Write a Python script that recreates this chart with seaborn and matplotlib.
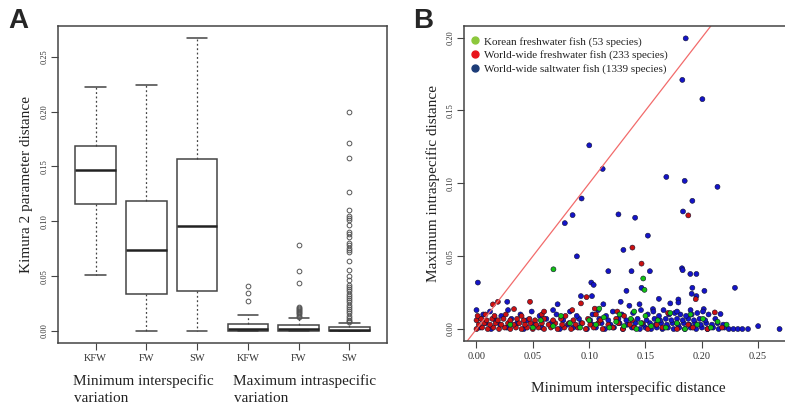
import numpy as np
import pandas as pd
import matplotlib
matplotlib.use('Agg')
import matplotlib.pyplot as plt
from matplotlib.lines import Line2D
import seaborn as sns

# ---- panel A: boxplot summaries ----
box_labels = ['KFW', 'FW', 'SW', 'KFW', 'FW', 'SW']
whisker_lo = [0.051, 0.000, 0.000, 0.000, 0.000, 0.000]
q1 = [0.1159, 0.034, 0.0365, 0.000, 0.000, 0.000]
median = [0.1466, 0.0739, 0.096, 0.0015, 0.0015, 0.001]
q3 = [0.169, 0.1183, 0.157, 0.006, 0.005, 0.004]
whisker_hi = [0.2223, 0.2245, 0.267, 0.0148, 0.0122, 0.0076]
outliers_kfw = [0.041, 0.035, 0.027]
outliers_fw = [0.078, 0.055, 0.044, 0.022, 0.021, 0.020, 0.019, 0.018,
               0.017, 0.016, 0.015, 0.014, 0.013]
outliers_sw = [0.200, 0.171, 0.158, 0.127, 0.110, 0.105, 0.103, 0.101,
               0.097, 0.090, 0.088, 0.086, 0.080, 0.078, 0.076, 0.074,
               0.072, 0.064, 0.056, 0.050, 0.046, 0.042, 0.040, 0.038,
               0.036, 0.034, 0.032, 0.030, 0.028, 0.026, 0.024, 0.022,
               0.020, 0.018, 0.016, 0.014, 0.012, 0.010, 0.009, 0.008]
box_outliers = [[], [], [], outliers_kfw, outliers_fw, outliers_sw]
group_line1 = ['Minimum interspecific', 'Maximum intraspecific']
group_line2 = ['variation', 'variation']

# ---- panel B: min interspecific (x) vs max intraspecific (y) ----
sw_x = [0.1857, 0.1827, 0.2005, 0.1001, 0.112, 0.1685, 0.1848, 0.2139,
        0.0933, 0.1916, 0.0853, 0.0784, 0.126, 0.1408, 0.1833, 0.1521,
        0.1304, 0.0891, 0.117, 0.1376, 0.1539, 0.1824, 0.183, 0.1898,
        0.1952, 0.0012, 0.1019, 0.104, 0.1916, 0.2023, 0.2294, 0.1331,
        0.1465, 0.191, 0.1952, 0.0927, 0.1025, 0.1619, 0.1792, 0.1792,
        0.2017,
        0.0273, 0.072, 0.1126, 0.128, 0.1357, 0.1447, 0.1566, 0.172, 0.2166,
        0.003, 0.013, 0.027, 0.042, 0.058, 0.074, 0.086, 0.098, 0.106, 0.114,
        0.122, 0.130, 0.138, 0.145, 0.150, 0.155, 0.160, 0.165, 0.170, 0.175,
        0.180, 0.185, 0.190, 0.195, 0.200, 0.205, 0.210, 0.215, 0.220, 0.224,
        0.228, 0.232, 0.236, 0.241, 0.269,
        0.008, 0.021, 0.036, 0.051, 0.066, 0.081, 0.093, 0.103, 0.111, 0.119,
        0.127, 0.134, 0.141, 0.148, 0.154, 0.159, 0.164, 0.169, 0.174, 0.179,
        0.184, 0.189, 0.194, 0.199, 0.204, 0.209, 0.214, 0.219, 0.250,
        0.004, 0.017, 0.031, 0.045, 0.062, 0.077, 0.091, 0.101, 0.109, 0.117,
        0.126, 0.133, 0.143, 0.151, 0.158, 0.163, 0.168, 0.173, 0.178, 0.183,
        0.188, 0.193, 0.198, 0.203, 0.212,
        0.006, 0.022, 0.039, 0.056, 0.071, 0.089, 0.103, 0.115, 0.129, 0.139,
        0.152, 0.162, 0.171, 0.176, 0.181, 0.186, 0.191, 0.196, 0.206,
        0.000, 0.012, 0.028, 0.049, 0.068, 0.083, 0.108, 0.121, 0.146, 0.157,
        0.166, 0.178, 0.190, 0.201]
sw_y = [0.1995, 0.171, 0.1578, 0.1261, 0.1099, 0.1044, 0.1017, 0.0976,
        0.0896, 0.088, 0.0782, 0.0727, 0.0787, 0.0764, 0.0807, 0.0641,
        0.0543, 0.0499, 0.0397, 0.0397, 0.0397, 0.0417, 0.0404, 0.0378,
        0.0378, 0.0319, 0.0319, 0.0303, 0.0283, 0.0262, 0.0283, 0.0262,
        0.0283, 0.0242, 0.0226, 0.0226, 0.0226, 0.0207, 0.0203, 0.0182,
        0.0137,
        0.0187, 0.017, 0.017, 0.0187, 0.016, 0.017, 0.0137, 0.0176, 0.0103,
        0.001, 0.000, 0.001, 0.000, 0.001, 0.000, 0.001, 0.000, 0.001, 0.000,
        0.001, 0.000, 0.001, 0.000, 0.001, 0.000, 0.001, 0.000, 0.001, 0.000,
        0.001, 0.000, 0.001, 0.000, 0.001, 0.000, 0.001, 0.000, 0.001, 0.000,
        0.000, 0.000, 0.000, 0.000, 0.000,
        0.004, 0.003, 0.004, 0.003, 0.004, 0.003, 0.004, 0.003, 0.004, 0.003,
        0.004, 0.003, 0.004, 0.003, 0.004, 0.003, 0.004, 0.003, 0.004, 0.003,
        0.004, 0.003, 0.004, 0.003, 0.004, 0.003, 0.004, 0.003, 0.002,
        0.007, 0.006, 0.007, 0.006, 0.007, 0.006, 0.007, 0.006, 0.007, 0.006,
        0.007, 0.006, 0.007, 0.006, 0.007, 0.006, 0.007, 0.006, 0.007, 0.006,
        0.007, 0.006, 0.007, 0.006, 0.007,
        0.010, 0.009, 0.010, 0.009, 0.010, 0.009, 0.010, 0.009, 0.010, 0.011,
        0.010, 0.009, 0.010, 0.011, 0.010, 0.009, 0.010, 0.011, 0.010,
        0.013, 0.012, 0.013, 0.012, 0.013, 0.012, 0.013, 0.012, 0.013, 0.012,
        0.013, 0.012, 0.013, 0.012]
fw_x = [0.000, 0.005, 0.010, 0.015, 0.020, 0.025, 0.030, 0.035, 0.040, 0.045,
        0.050, 0.055, 0.060, 0.066, 0.072, 0.078, 0.084, 0.090, 0.097, 0.104,
        0.112, 0.121, 0.130, 0.140, 0.152, 0.165, 0.178, 0.192, 0.205, 0.218,
        0.002, 0.007, 0.012, 0.017, 0.022, 0.028, 0.033, 0.038, 0.043, 0.048,
        0.053, 0.058, 0.064, 0.070, 0.076, 0.082, 0.088, 0.094, 0.101, 0.108,
        0.117, 0.126, 0.136, 0.147, 0.160, 0.188,
        0.000, 0.004, 0.009, 0.014, 0.019, 0.024, 0.030, 0.036, 0.042, 0.047,
        0.052, 0.060, 0.068, 0.075, 0.086, 0.099, 0.110, 0.124, 0.138,
        0.001, 0.008, 0.016, 0.026, 0.040, 0.058, 0.079, 0.106, 0.131,
        0.019, 0.0146, 0.0333, 0.0475, 0.0927, 0.0977, 0.1946, 0.2115, 0.188,
        0.1384, 0.1465, 0.060, 0.085, 0.125, 0.170, 0.105]
fw_y = [0.000, 0.001, 0.000, 0.001, 0.000, 0.001, 0.000, 0.001, 0.000, 0.001,
        0.000, 0.001, 0.000, 0.001, 0.000, 0.001, 0.000, 0.001, 0.000, 0.001,
        0.000, 0.001, 0.000, 0.001, 0.000, 0.001, 0.000, 0.001, 0.000, 0.001,
        0.003, 0.004, 0.003, 0.004, 0.003, 0.004, 0.003, 0.004, 0.003, 0.004,
        0.003, 0.004, 0.003, 0.004, 0.003, 0.004, 0.003, 0.004, 0.003, 0.004,
        0.003, 0.004, 0.003, 0.004, 0.003, 0.003,
        0.006, 0.007, 0.006, 0.007, 0.006, 0.007, 0.006, 0.007, 0.006, 0.007,
        0.006, 0.007, 0.006, 0.007, 0.006, 0.007, 0.006, 0.007, 0.006,
        0.009, 0.010, 0.009, 0.010, 0.009, 0.010, 0.009, 0.010, 0.009,
        0.0187, 0.0169, 0.0137, 0.0187, 0.0176, 0.0219, 0.0205, 0.0114, 0.078,
        0.0559, 0.0449, 0.012, 0.013, 0.012, 0.011, 0.014]
kfw_x = [0.050, 0.057, 0.068, 0.075, 0.083, 0.092, 0.100, 0.106, 0.109, 0.113,
         0.118, 0.124, 0.127, 0.131, 0.137, 0.142, 0.146, 0.150, 0.155, 0.161,
         0.168, 0.172, 0.178, 0.185, 0.190, 0.196, 0.201, 0.208, 0.214, 0.222,
         0.0683, 0.148, 0.1491, 0.030, 0.140]
kfw_y = [0.001, 0.006, 0.002, 0.009, 0.004, 0.001, 0.006, 0.003, 0.014, 0.008,
         0.001, 0.005, 0.010, 0.002, 0.007, 0.000, 0.004, 0.009, 0.002, 0.006,
         0.001, 0.011, 0.004, 0.000, 0.010, 0.003, 0.007, 0.001, 0.005, 0.003,
         0.041, 0.0347, 0.0269, 0.003, 0.012]
legend_labels = ['Korean freshwater fish (53 species)',
                 'World-wide freshwater fish (233 species)',
                 'World-wide saltwater fish (1339 species)']

sns.set_style('ticks')
plt.rcParams['font.family'] = ['Liberation Serif', 'DejaVu Serif']

fig = plt.figure(figsize=(7.85, 4.05), dpi=100)
edge = '#444444'

# panel A
axa = fig.add_axes([0.0739, 0.1531, 0.4191, 0.7827])
stats = []
for i in range(len(box_labels)):
    stats.append(dict(whislo=whisker_lo[i], q1=q1[i], med=median[i], q3=q3[i],
                      whishi=whisker_hi[i], fliers=box_outliers[i]))
axa.bxp(stats, positions=range(1, 7), widths=0.8, capwidths=0.4,
        patch_artist=True,
        boxprops=dict(facecolor='white', edgecolor=edge, linewidth=1.1),
        medianprops=dict(color='#222222', linewidth=1.8),
        whiskerprops=dict(color=edge, linewidth=0.9, linestyle=(0, (1.5, 2))),
        capprops=dict(color=edge, linewidth=1.1),
        flierprops=dict(marker='o', markerfacecolor='none', markeredgecolor='#555555',
                        markersize=3.4, markeredgewidth=0.7))
axa.set_xlim(0.26, 6.74)
axa.set_ylim(-0.011, 0.278)
axa.set_xticks(range(1, 7))
axa.set_xticklabels(box_labels)
axa.set_yticks([0, 0.05, 0.10, 0.15, 0.20, 0.25])
axa.set_yticklabels(['0.00', '0.05', '0.10', '0.15', '0.20', '0.25'])
axa.set_ylabel('Kimura 2 parameter distance', fontsize=11, color='#222222', labelpad=5)
for gx, l1, l2 in zip([73 / 785, 233 / 785], group_line1, group_line2):
    fig.text(gx, 20 / 405, l1, fontsize=11, color='#222222', ha='left', va='baseline')
    fig.text(gx + 1 / 785, 3.5 / 405, l2, fontsize=11, color='#222222',
             ha='left', va='baseline')

# panel B
axb = fig.add_axes([0.5915, 0.1588, 0.4185, 0.777])
df = pd.DataFrame({
    'min_inter': sw_x + fw_x + kfw_x,
    'max_intra': sw_y + fw_y + kfw_y,
    'group': ['sw'] * len(sw_x) + ['fw'] * len(fw_x) + ['kfw'] * len(kfw_x),
})
sns.scatterplot(data=df, x='min_inter', y='max_intra', hue='group',
                palette={'sw': '#1414c8', 'fw': '#cc1010', 'kfw': '#12c012'},
                s=13, edgecolor='#101030', linewidth=0.4, legend=False, ax=axb)
axb.axline((0, 0), slope=1, color='#f26b6b', linewidth=0.9, zorder=1)
axb.set_xlim(-0.0108, 0.2808)
axb.set_ylim(-0.008, 0.208)
axb.set_xticks([0, 0.05, 0.10, 0.15, 0.20, 0.25])
axb.set_xticklabels(['0.00', '0.05', '0.10', '0.15', '0.20', '0.25'])
axb.set_yticks([0, 0.05, 0.10, 0.15, 0.20])
axb.set_yticklabels(['0.00', '0.05', '0.10', '0.15', '0.20'])
axb.set_xlabel('Minimum interspecific distance', fontsize=11, color='#222222', labelpad=15)
axb.set_ylabel('Maximum intraspecific distance', fontsize=11, color='#222222', labelpad=5)
handles = [Line2D([], [], marker='o', linestyle='none', color=c, markersize=5)
           for c in ['#8cc83c', '#e8141c', '#1c3c78']]
axb.legend(handles, legend_labels, loc='upper left', bbox_to_anchor=(-0.012, 1.0),
           frameon=False, fontsize=8,
           handlelength=0.8, handletextpad=0.4, labelspacing=0.34,
           borderaxespad=0.65, borderpad=0.3, labelcolor='#222222')

for ax in (axa, axb):
    for sp in ax.spines.values():
        sp.set_visible(True)
        sp.set_color(edge)
        sp.set_linewidth(1.1)
    ax.tick_params(axis='both', direction='out', length=5, width=0.8, color=edge,
                   labelcolor='#333333')
    ax.tick_params(axis='x', labelsize=7.5, pad=3)
    ax.tick_params(axis='y', labelsize=6, labelrotation=90, pad=2)
    for lab in ax.get_yticklabels():
        lab.set_va('center')

fig.text(8 / 785, 1 - 8 / 405, 'A', fontsize=20, fontweight='bold',
         family='Liberation Sans', va='top', ha='left')
fig.text(413 / 785, 1 - 8 / 405, 'B', fontsize=20, fontweight='bold',
         family='Liberation Sans', va='top', ha='left')

fig.savefig('out.png', dpi=100)
